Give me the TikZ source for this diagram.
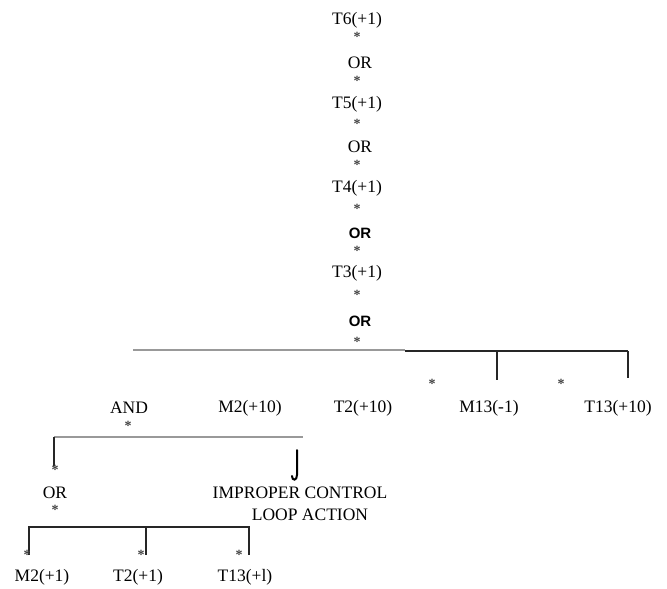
\documentclass[tikz,border=0pt]{standalone}
\usepackage{fontspec}
\setmainfont{Liberation Serif}
\newfontfamily\orsans{Liberation Sans}
\begin{document}
\begin{tikzpicture}[x=1pt,y=-1pt,
  lbl/.style={font=\fontsize{17.5}{20}\selectfont, inner sep=0pt},
  boldor/.style={font=\orsans\bfseries\fontsize{15}{17}\selectfont, inner sep=0pt},
  star/.style={font=\bfseries\fontsize{14}{14}\selectfont, text=black!75, inner sep=0pt},
  darkline/.style={line width=1.5pt, draw=black!85},
  greyline/.style={line width=1.5pt, draw=black!40},
  hookline/.style={line width=2pt, draw=black, line cap=round},
]
\useasboundingbox (0,0) rectangle (667,589);

% top chain of events
\node[lbl]    (t6)  at (357,20)  {T6(+1)};
\node[star]   (s1)  at (357,37)  {*};
\node[lbl]    (or1) at (360,63)  {OR};
\node[star]   (s2)  at (357,81)  {*};
\node[lbl]    (t5)  at (357,104) {T5(+1)};
\node[star]   (s3)  at (357,124) {*};
\node[lbl]    (or2) at (360,147) {OR};
\node[star]   (s4)  at (357,165) {*};
\node[lbl]    (t4)  at (357,188) {T4(+1)};
\node[star]   (s5)  at (357,209) {*};
\node[boldor] (or3) at (360,233) {OR};
\node[star]   (s6)  at (357,251) {*};
\node[lbl]    (t3)  at (357,273) {T3(+1)};
\node[star]   (s7)  at (357,295) {*};
\node[boldor] (or4) at (360,321) {OR};
\node[star]   (s8)  at (357,342) {*};

% main branch line
\coordinate (mainL) at (133,350);
\coordinate (mainM) at (405,351);
\coordinate (mainT) at (497,351);
\coordinate (mainR) at (628,351);
\coordinate (tickA) at (497,380);
\coordinate (tickB) at (628,378);
\draw[greyline] (mainL) -- (mainM |- mainL);
\draw[darkline] (mainM) -- (mainR);
\draw[darkline] (mainT) -- (tickA);
\draw[darkline] (mainR) -- (tickB);

\node[star] (s9)  at (432,384) {*};
\node[star] (s10) at (561,384) {*};

% second row
\node[lbl] (and)  at (129,408) {AND};
\node[lbl] (m2a)  at (250,408) {M2(+10)};
\node[lbl] (t2a)  at (363,408) {T2(+10)};
\node[lbl] (m13)  at (489,408) {M13(-1)};
\node[lbl] (t13a) at (618,408) {T13(+10)};
\node[star] (s11) at (128,426) {*};

% AND bracket
\coordinate (andL) at (54,437);
\coordinate (andR) at (303,437);
\coordinate (andD) at (54,466);
\draw[greyline] (andL) -- (andR);
\draw[darkline] (andL) -- (andD);
\node[star] (s12) at (55,470) {*};

% hook under the right end of the AND bracket
\coordinate (hookT) at (297,450);
\coordinate (hookB) at (292,476);
\draw[hookline] (hookT) -- (297,475) .. controls (297,481) and (292,481) .. (hookB);

\node[lbl] (or5) at (55,493) {OR};
\node[star] (s13) at (55,510) {*};

\node[lbl] (imp1) at (300,493) {IMPROPER CONTROL};
\node[lbl] (imp2) at (310,515) {LOOP ACTION};

% OR bracket
\coordinate (orL) at (29,527);
\coordinate (orM) at (146,527);
\coordinate (orR) at (249,527);
\coordinate (orLD) at (29,555);
\coordinate (orMD) at (146,555);
\coordinate (orRD) at (249,555);
\draw[line width=2pt, black!85] (orLD) -- (orL) -- (orR) -- (orRD);
\draw[line width=2pt, black!85] (orM) -- (orMD);

\node[star] (s14) at (27,555)  {*};
\node[star] (s15) at (141,555) {*};
\node[star] (s16) at (239,555) {*};

\node[lbl] (m2b)  at (42,577)  {M2(+1)};
\node[lbl] (t2b)  at (138,577) {T2(+1)};
\node[lbl] (t13b) at (245,577) {T13(+l)};
\end{tikzpicture}
\end{document}
